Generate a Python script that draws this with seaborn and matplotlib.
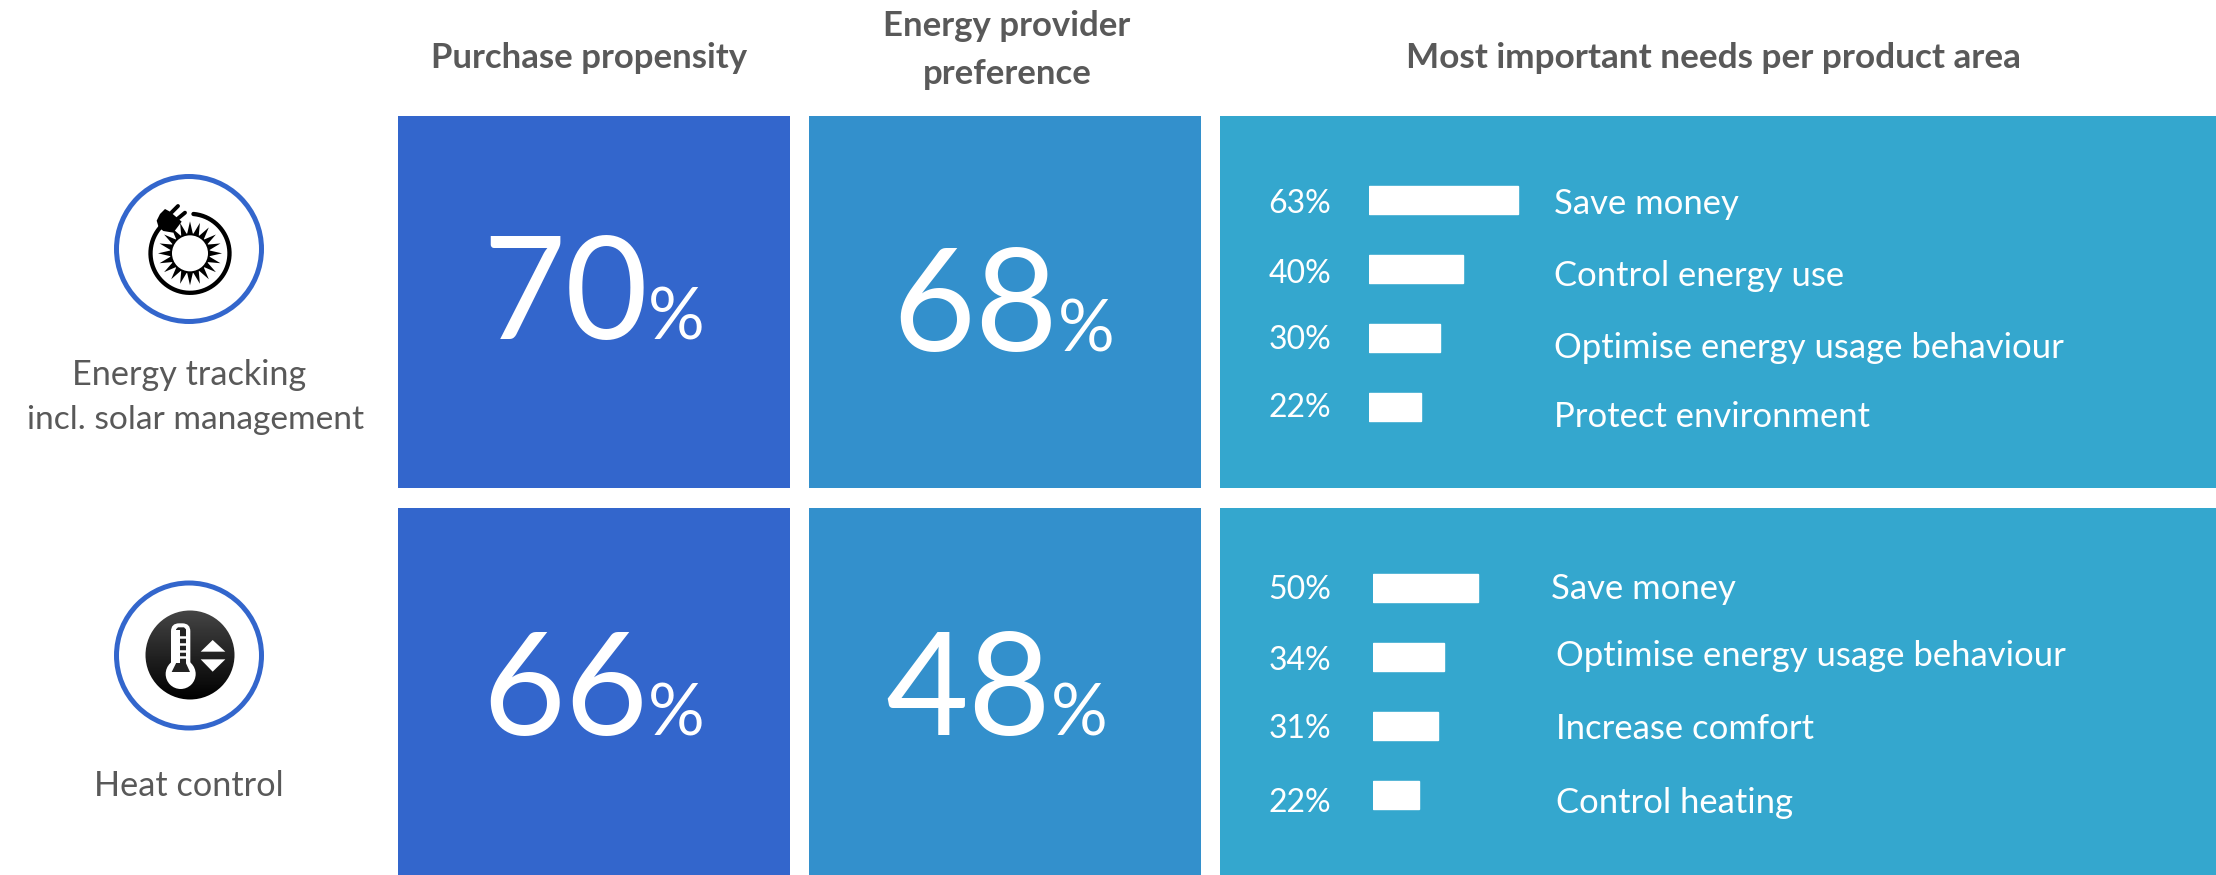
import numpy as np
import pandas as pd
import matplotlib
matplotlib.use("Agg")
import matplotlib.pyplot as plt
from matplotlib.patches import Rectangle, Circle, Polygon, FancyBboxPatch
import seaborn as sns

# ---------- data ----------
headers = ["Purchase propensity", "Energy provider\npreference", "Most important needs per product area"]
products = ["Energy tracking", "incl. solar management", "Heat control"]
purchase_propensity = [70, 66]
provider_preference = [68, 48]
needs_energy = ["Save money", "Control energy use", "Optimise energy usage behaviour", "Protect environment"]
values_energy = [63, 40, 30, 22]
needs_heat = ["Save money", "Optimise energy usage behaviour", "Increase comfort", "Control heating"]
values_heat = [50, 34, 31, 22]

# ---------- style ----------
sns.set_theme(style="white")
plt.rcParams["font.family"] = ["Lato", "DejaVu Sans"]
W, H = 2216, 875
BLUE1, BLUE2, BLUE3 = "#3366CC", "#3390CC", "#34A7CE"
GREY = "#595959"
SMALL = 24.9

fig = plt.figure(figsize=(W / 100, H / 100), dpi=100, facecolor="white")
bg = fig.add_axes([0, 0, 1, 1])
bg.set_xlim(0, W); bg.set_ylim(H, 0); bg.axis("off")

# panels
col_x = [(397.5, 790, BLUE1), (808.5, 1201, BLUE2), (1220, 2216, BLUE3)]
row_y = [(116, 488), (508, 875)]
for x0, x1, c in col_x:
    for y0, y1 in row_y:
        bg.add_patch(Rectangle((x0, y0), x1 - x0, y1 - y0, fc=c, ec="none", zorder=1))

# headers
for txt, cx, cy, fs in zip(headers, [589, 1007, 1713], [58, 50, 58], [25, 25, 25.3]):
    bg.text(cx, cy, txt, ha="center", va="center", color=GREY, fontsize=fs,
            fontweight="bold", linespacing=1.6)

# product labels
for txt, cx, cy, fs in zip(products, [189, 196, 189], [375, 420, 786], [24.7, 24.1, 24.7]):
    bg.text(cx, cy, txt, ha="center", va="center", color=GREY, fontsize=fs)


# big numbers
def big(val, x_join, y):
    bg.text(x_join, y, str(val), ha="right", va="baseline", color="white", fontsize=103, zorder=3)
    bg.text(x_join, y, "%", ha="left", va="baseline", color="white", fontsize=51, zorder=3)


big(purchase_propensity[0], 648, 339)
big(provider_preference[0], 1058, 351)
big(purchase_propensity[1], 648, 735)
big(provider_preference[1], 1051, 735)


# bars + labels
def bars(values, needs, x0, px_per_pct, y_top, y_bot, pct_y, lab_x, lab_y):
    ax = fig.add_axes([x0 / W, 1 - y_bot / H, 300 / W, (y_bot - y_top) / H])
    ax.patch.set_alpha(0)
    df = pd.DataFrame({"need": needs, "value": values})
    sns.barplot(data=df, x="value", y="need", color="white", saturation=1, width=0.405,
                ax=ax, orient="h", errorbar=None)
    ax.set_xlim(0, 300 / px_per_pct)
    ax.axis("off")
    for v, y in zip(values, pct_y):
        bg.text(1300, y, f"{v}%", ha="center", va="center", color="white", fontsize=23, zorder=3)
    for n, x, y in zip(needs, lab_x, lab_y):
        bg.text(x, y, n, ha="left", va="center", color="white", fontsize=SMALL, zorder=3)


bars(values_energy, needs_energy, 1369, 2.36, 165.1, 441.6,
     [204, 274, 340, 408], [1554] * 4, [204, 276, 348, 417])
bars(values_heat, needs_heat, 1373, 2.09, 553, 829.6,
     [590, 661, 729, 803], [1551, 1556, 1556, 1556], [589, 656, 729, 803])

# ---------- icons ----------
for cy in (249, 655.5):
    bg.add_patch(Circle((189, cy), 72.5, fc="white", ec=BLUE1, lw=3.6, zorder=2))


def Z1(p):
    return [(60 + x / 3, 150 + y / 3) for x, y in p]


def Z2(p):
    return [(60 + x / 3, 560 + y / 3) for x, y in p]


# sun & plug icon
cx, cy = 60 + 390 / 3, 150 + 310 / 3
th = np.radians(np.linspace(-85, 222, 200))
bg.plot(cx + 39.5 * np.cos(th), cy + 39.5 * np.sin(th), color="black", lw=3.1, zorder=3,
        solid_capstyle="round")
n = 20
ang = np.arange(n) * 2 * np.pi / n + np.pi / 2
star = []
for a in ang:
    star += [(cx + 20 * np.cos(a - 0.14), cy + 20 * np.sin(a - 0.14)),
             (cx + 32 * np.cos(a), cy + 32 * np.sin(a)),
             (cx + 20 * np.cos(a + 0.14), cy + 20 * np.sin(a + 0.14))]
bg.add_patch(Polygon(star, fc="black", ec="none", zorder=3))
bg.add_patch(Circle((cx, cy), 18, fc="white", ec="none", zorder=4))
bg.add_patch(Polygon(Z1([(290, 212), (300, 192), (315, 177), (330, 185), (365, 215), (340, 248),
                         (310, 243), (296, 232)]), fc="black", ec="none", zorder=5))
for a, b in [((335, 187), (354, 168)), ((352, 207), (375, 188))]:
    (x0, y0), (x1, y1) = Z1([a, b])
    bg.plot([x0, x1], [y0, y1], color="black", lw=2.8, zorder=5, solid_capstyle="round")

# thermometer icon
tx, ty = 60 + 390 / 3, 560 + 285 / 3
clip = Circle((tx, ty), 44.5, transform=bg.transData)
grad = np.linspace(0.27, 0, 64).reshape(-1, 1)
im = bg.imshow(grad, cmap="gray", vmin=0, vmax=1, extent=(tx - 45, tx + 45, ty + 45, ty - 45),
               aspect="auto", zorder=3)
im.set_clip_path(clip)
bg.set_xlim(0, W); bg.set_ylim(H, 0)
(sx0, sy0), (sx1, sy1) = Z2([(333, 190), (391, 345)])
bg.add_patch(FancyBboxPatch((sx0, sy0), sx1 - sx0, sy1 - sy0,
                            boxstyle="round,pad=0,rounding_size=8", fc="white", ec="none", zorder=4))
bg.add_patch(Circle(Z2([(362, 342)])[0], 15, fc="white", ec="none", zorder=4))
bg.add_patch(Polygon(Z2([(348, 208), (354, 202), (372, 202), (378, 208), (378, 310), (390, 336),
                         (335, 336), (348, 310)]), fc="#222222", ec="none", zorder=5))
bg.add_patch(Rectangle(Z2([(348, 210)])[0], 4, 33, fc="white", ec="none", zorder=6))
for yy in (232, 252, 272, 292):
    (a0, b0), (a1, b1) = Z2([(358, yy), (378, yy)])
    bg.plot([a0, a1], [b0, b1], color="white", lw=1.8, zorder=7, solid_capstyle="butt")
bg.add_patch(Polygon(Z2([(458, 240), (422, 275), (496, 275)]), fc="white", ec="none", zorder=4))
bg.add_patch(Polygon(Z2([(422, 298), (496, 298), (458, 335)]), fc="white", ec="none", zorder=4))

fig.savefig("out.png", dpi=100, facecolor="white")
